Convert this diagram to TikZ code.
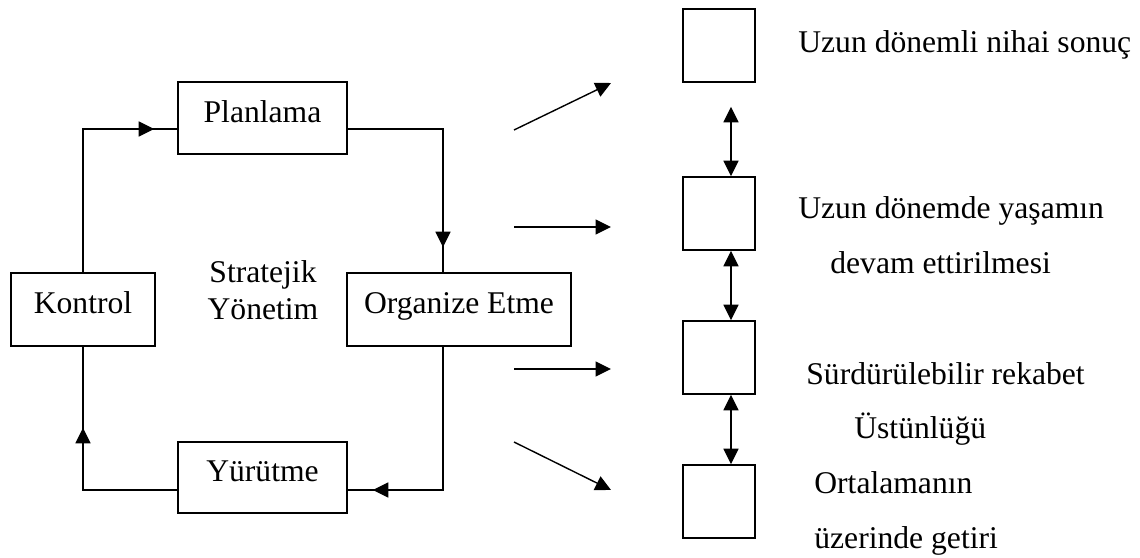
\documentclass[tikz,border=0pt]{standalone}
\usepackage{fontspec}
\setmainfont{Liberation Serif}
\usetikzlibrary{positioning,arrows.meta,decorations.markings}
\tikzset{
  stagebox/.style={draw, line width=0.9pt, minimum width=3.38cm, minimum height=1.44cm, inner sep=0pt, font=\fontsize{18}{21.5}\selectfont, text height=12.5pt, text depth=7.5pt},
  goalbox/.style={draw, line width=0.9pt, minimum width=1.44cm, minimum height=1.46cm, inner sep=0pt},
  goaltext/.style={anchor=base west, inner sep=0pt, font=\fontsize{18}{21.5}\selectfont},
  cyclearrow/.style={line width=0.8pt, postaction={decorate}, decoration={markings, mark=at position #1 with {\arrow{Triangle[length=0.31cm,width=0.3cm]}}}},
  flowarrow/.style={-{Triangle[length=0.31cm,width=0.3cm]}, line width=0.8pt},
  botharrow/.style={{Triangle[length=0.31cm,width=0.3cm]}-{Triangle[length=0.31cm,width=0.3cm]}, line width=0.8pt}
}
\begin{document}
\begin{tikzpicture}[x=0.02cm, y=-0.02cm]
  \useasboundingbox (0,0) rectangle (1140,558);
  % management cycle
  \node[stagebox] (plan) at (262.5,118) {Planlama};
  \node[stagebox, minimum width=2.88cm, minimum height=1.46cm] (kontrol) at (83,309.5) {Kontrol};
  \node[stagebox, minimum width=4.48cm, minimum height=1.46cm] (org) at (459,309.5) {Organize Etme};
  \node[stagebox, minimum height=1.42cm] (exec) at (262.5,477.5) {Yürütme};
  \node[align=center, inner sep=0pt, font=\fontsize{18}{21}\selectfont] (center) at (263,290) {Stratejik\\Yönetim};
  \draw[cyclearrow=-0.46cm] (kontrol.north) |- ([yshift=-0.22cm]plan.west);
  \draw[cyclearrow=-0.5cm] ([yshift=-0.22cm]plan.east) -| ([xshift=-0.32cm]org.north);
  \draw[cyclearrow=-0.5cm] ([xshift=-0.32cm]org.south) |- ([yshift=-0.25cm]exec.east);
  \draw[cyclearrow=-1.62cm] ([yshift=-0.25cm]exec.west) -| (kontrol.south);
  % outcomes
  \node[goalbox] (r1) at (719,45.5) {};
  \node[goalbox] (r2) at (719,213.5) {};
  \node[goalbox] (r3) at (719,357.5) {};
  \node[goalbox] (r4) at (719,501.5) {};
  \draw[botharrow] ([xshift=0.24cm,yshift=-0.48cm]r1.south) -- ([xshift=0.24cm]r2.north);
  \draw[botharrow] ([xshift=0.24cm]r2.south) -- ([xshift=0.24cm]r3.north);
  \draw[botharrow] ([xshift=0.24cm]r3.south) -- ([xshift=0.24cm]r4.north);
  \coordinate (s1) at (514,130); \coordinate (e1) at (611,83);
  \coordinate (s2) at (514,227); \coordinate (e2) at (611,227);
  \coordinate (s3) at (514,369); \coordinate (e3) at (611,369);
  \coordinate (s4) at (514,442); \coordinate (e4) at (611,490);
  \draw[flowarrow] (s1) -- (e1);
  \draw[flowarrow] (s2) -- (e2);
  \draw[flowarrow] (s3) -- (e3);
  \draw[flowarrow] (s4) -- (e4);
  \node[goaltext] (t1) at (798,52) {Uzun dönemli nihai sonuç};
  \node[goaltext] (t2) at (798,218) {Uzun dönemde yaşamın};
  \node[goaltext] (t3) at (830,273) {devam ettirilmesi};
  \node[goaltext] (t4) at (806,384) {Sürdürülebilir rekabet};
  \node[goaltext] (t5) at (854,438) {Üstünlüğü};
  \node[goaltext] (t6) at (814,493) {Ortalamanın};
  \node[goaltext] (t7) at (814,548) {üzerinde getiri};
\end{tikzpicture}
\end{document}
